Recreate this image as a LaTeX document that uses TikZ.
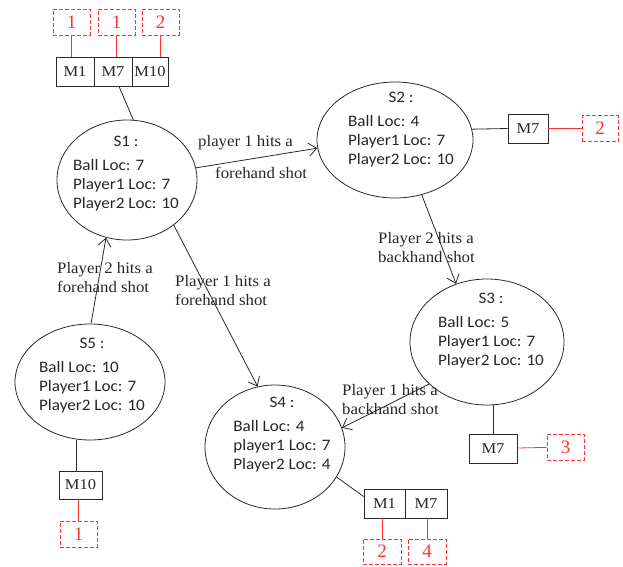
\documentclass[tikz,border=0pt]{standalone}
\usepackage{fontspec}
\setmainfont{Liberation Serif}
\newfontfamily\statefont[FakeStretch=1.07]{Carlito}
\newfontfamily\labelfont[FakeStretch=1.05]{Liberation Serif}
\newfontfamily\boxfont[FakeStretch=1.1]{Liberation Serif}
\usetikzlibrary{shapes.geometric,arrows.meta}
\definecolor{ink}{RGB}{40,40,40}
\definecolor{txt}{RGB}{38,38,38}
\definecolor{redmark}{RGB}{255,50,50}

\tikzset{
  statebox/.style={ellipse, draw=ink, line width=0.8pt, inner sep=0pt},
  statetxt/.style={font=\statefont\fontsize{16}{19}\selectfont, text=txt, inner sep=0pt},
  mbox/.style={rectangle, draw=ink, line width=0.8pt, minimum height=29pt, inner sep=0pt,
    font=\boxfont\fontsize{15}{17}\selectfont, text=txt},
  tagbox/.style={rectangle, draw=redmark, dash pattern=on 4pt off 2pt, line width=0.8pt,
    minimum width=37pt, minimum height=26pt, inner sep=0pt, text=redmark,
    font=\fontsize{19}{20}\selectfont},
  tagline/.style={draw=redmark, line width=0.8pt},
  link/.style={draw=ink, line width=0.8pt},
  move/.style={link, -{Straight Barb[length=8pt,width=13pt]}},
  edgetxt/.style={font=\labelfont\fontsize{16}{19}\selectfont, text=txt, inner sep=0pt,
    align=left, anchor=west},
}

% state contents: centred title, then three left-aligned lines
\newcommand{\statelines}[4]{\begin{tabular}{@{}l@{}}\multicolumn{1}{@{}c@{}}{#1}\\[5pt]#2\\#3\\#4\end{tabular}}

\begin{document}
\begin{tikzpicture}[x=1pt, y=-1pt]
\useasboundingbox (0,0) rectangle (623,566);

% states
\node[statebox, minimum width=140pt, minimum height=120pt] (S1) at (127,180) {};
\node[statetxt] (S1t) at (126,174) {\statelines{S1 :}{Ball Loc: 7}{Player1 Loc: 7}{Player2 Loc: 10}};

\node[statebox, minimum width=156pt, minimum height=116pt] (S2) at (395,140) {};
\node[statetxt] (S2t) at (401,130) {\statelines{S2 :}{Ball Loc: 4}{Player1 Loc: 7}{Player2 Loc: 10}};

\node[statebox, minimum width=154pt, minimum height=126pt] (S3) at (487,342) {};
\node[statetxt] (S3t) at (491,331) {\statelines{S3 :}{Ball Loc: 5}{Player1 Loc: 7}{Player2 Loc: 10}};

\node[statebox, minimum width=140pt, minimum height=124pt] (S4) at (275,447) {};
\node[statetxt] (S4t) at (282,435) {\statelines{S4 :}{Ball Loc: 4}{player1 Loc: 7}{Player2 Loc: 4}};

\node[statebox, minimum width=150pt, minimum height=116pt] (S5) at (90,382) {};
\node[statetxt] (S5t) at (92,376) {\statelines{S5 :}{Ball Loc: 10}{Player1 Loc: 7}{Player2 Loc: 10}};

% move boxes
\node[mbox, minimum width=38pt] (tm1) at (75,71.5) {M1};
\node[mbox, minimum width=38pt] (tm7) at (113,71.5) {M7};
\node[mbox, minimum width=36pt] (tm10) at (150,71.5) {M10};

\node[mbox, minimum width=40pt] (m2) at (528,128.5) {M7};
\node[mbox, minimum width=48pt] (m3) at (493,448.5) {M7};
\node[mbox, minimum width=43pt, minimum height=28pt] (m5) at (80.5,485) {M10};
\node[mbox, minimum width=41pt] (bm1) at (384.5,503.5) {M1};
\node[mbox, minimum width=42pt] (bm7) at (426,503.5) {M7};

% counters
\node[tagbox] (t1) at (71.5,22) {1};
\node[tagbox] (t2) at (116.5,22) {1};
\node[tagbox] (t3) at (160.5,22) {2};
\node[tagbox, minimum width=36pt] (tag2) at (600,128.5) {2};
\node[tagbox] (tag3) at (565.5,447) {3};
\node[tagbox] (tag5) at (78.5,534) {1};
\node[tagbox, minimum width=38pt, minimum height=25pt] (tag41) at (382,551.5) {2};
\node[tagbox, minimum width=38pt, minimum height=25pt] (tag47) at (427,551.5) {4};

% counter links
\draw[tagline] (t1.south) -- (t1.south |- tm1.north);
\draw[tagline] (t2.south) -- (t2.south |- tm7.north);
\draw[tagline] (t3.south) -- (t3.south |- tm10.north);
\draw[tagline] (m2) -- (tag2);
\draw[tagline] (m3) -- (tag3);
\draw[tagline] (tag5.north) -- (tag5.north |- m5.south);
\draw[tagline] (tag41.north) -- (tag41.north |- bm1.south);
\draw[tagline] (tag47.north) -- (tag47.north |- bm7.south);

% state-to-move links
\draw[link] ([xshift=6pt]tm7.south) -- (S1.84);
\draw[link] (S2.8) -- (m2.west);
\draw[link] (S3.south -| m3.north) -- (m3.north);
\draw[link] ([xshift=-4pt]m5.north) -- ([xshift=-4pt]m5.north |- S5.south);
\draw[link] (S4.-26) -- ([yshift=7pt]bm1.west);

% transitions
\draw[move] (S1.10) -- (S2.186);
\draw[move] (S2.296) -- (S3.118);
\draw[move] (S3.216) -- (S4.16);
\draw[move] (S1.316) -- (S4.106);
\draw[move] (S5.89) -- (S1.250);

% transition labels
\node[edgetxt] (l12a) at (198,143) {player 1 hits a};
\node[edgetxt] (l12b) at (215,173) {forehand shot};
\node[edgetxt] (l23) at (378,247.5) {Player 2 hits a\\backhand shot};
\node[edgetxt] (l34) at (342,400) {Player 1 hits a\\backhand shot};
\node[edgetxt] (l14) at (175,291) {Player 1 hits a\\forehand shot};
\node[edgetxt] (l51) at (57,277.5) {Player 2 hits a\\forehand shot};
\end{tikzpicture}
\end{document}
